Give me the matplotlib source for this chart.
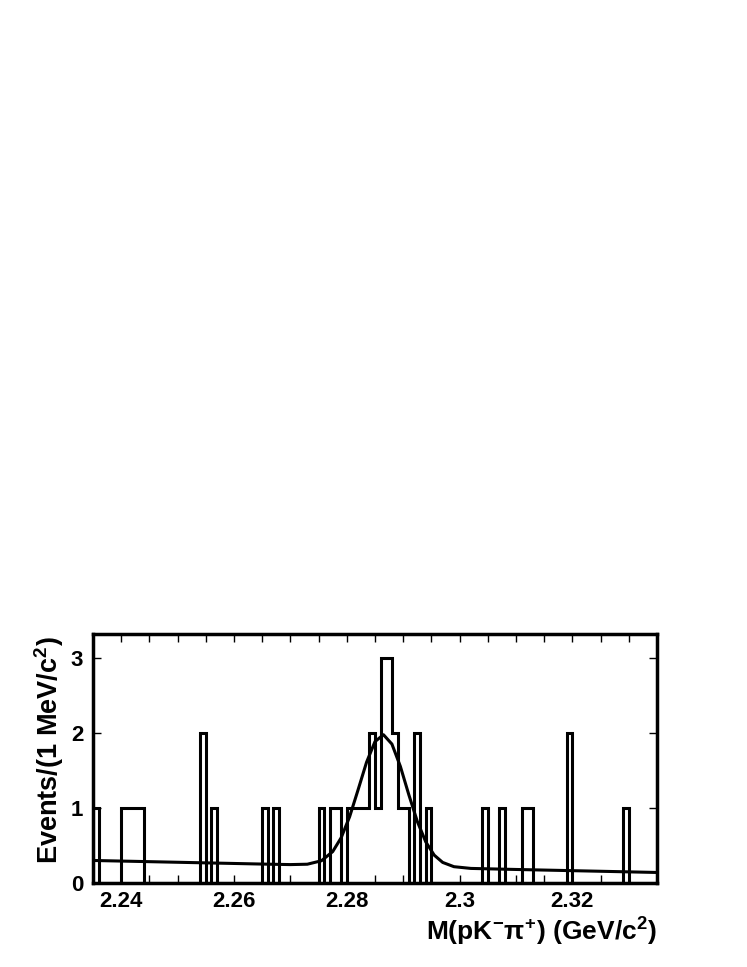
import numpy as np
import matplotlib
matplotlib.use('Agg')
import matplotlib.pyplot as plt
from matplotlib.ticker import MultipleLocator, FormatStrFormatter

plt.rcParams['font.family'] = ['Liberation Sans', 'DejaVu Sans']
plt.rcParams['font.weight'] = 'bold'
plt.rcParams['mathtext.fontset'] = 'custom'
plt.rcParams['mathtext.rm'] = 'Liberation Sans:bold'
plt.rcParams['mathtext.it'] = 'Liberation Sans:bold'
plt.rcParams['mathtext.bf'] = 'Liberation Sans:bold'

# histograma: 100 bins de 1 MeV entre 2.235 y 2.335 GeV
m_min = 2.235
m_max = 2.335
n_bins = 100
cuentas = [1, 0, 0, 0, 0, 1, 1, 1, 1, 0,
           0, 0, 0, 0, 0, 0, 0, 0, 0, 2,
           0, 1, 0, 0, 0, 0, 0, 0, 0, 0,
           1, 0, 1, 0, 0, 0, 0, 0, 0, 0,
           1, 0, 1, 1, 0, 1, 1, 1, 1, 2,
           1, 3, 3, 2, 1, 1, 0, 2, 0, 1,
           0, 0, 0, 0, 0, 0, 0, 0, 0, 1,
           0, 0, 1, 0, 0, 0, 1, 1, 0, 0,
           0, 0, 0, 0, 2, 0, 0, 0, 0, 0,
           0, 0, 0, 0, 1, 0, 0, 0, 0, 0]

# curva del ajuste
ajuste_x = [2.235, 2.245, 2.255, 2.265, 2.270, 2.273, 2.2755, 2.2775, 2.279,
            2.2805, 2.282, 2.2835, 2.285, 2.2865, 2.288, 2.2895, 2.291,
            2.2925, 2.294, 2.2955, 2.297, 2.299, 2.302, 2.310, 2.320, 2.335]
ajuste_y = [0.300, 0.284, 0.268, 0.252, 0.245, 0.250, 0.296, 0.418, 0.603,
            0.883, 1.242, 1.609, 1.885, 1.977, 1.852, 1.554, 1.176,
            0.821, 0.548, 0.371, 0.274, 0.217, 0.194, 0.180, 0.164, 0.140]

bordes = np.linspace(m_min, m_max, n_bins + 1)

fig = plt.figure(figsize=(7.47, 9.67), dpi=100)
ax = fig.add_axes([0.1245, 0.0869, 0.755, 0.2575])

ax.stairs(cuentas, bordes, color='black', lw=2.2)
ax.plot(ajuste_x, ajuste_y, color='black', lw=2.2)

ax.set_xlim(m_min, m_max)
ax.set_ylim(0, 3.32)

ax.xaxis.set_major_locator(MultipleLocator(0.02))
ax.xaxis.set_minor_locator(MultipleLocator(0.005))
ax.xaxis.set_major_formatter(FormatStrFormatter('%g'))
ax.yaxis.set_major_locator(MultipleLocator(1))

ax.tick_params(which='both', direction='in', top=True, right=True,
               width=1.0, labelsize=16)
ax.tick_params(axis='x', which='both', length=5.5, pad=6)
ax.tick_params(axis='y', which='major', length=5.5, pad=7)
for etiqueta in ax.get_xticklabels() + ax.get_yticklabels():
    etiqueta.set_fontweight('bold')

for lado in ax.spines.values():
    lado.set_linewidth(2.5)

fig.text(0.8795, 1 - 941 / 967, r'M(pK$^{-}\pi^{+}$) (GeV/c$^{2}$)',
         ha='right', va='baseline', fontsize=19, fontweight='bold')
fig.text(0.066, 1 - 636 / 967, r'Events/(1 MeV/c$^{2}$)',
         rotation=90, ha='center', va='top', fontsize=19.5, fontweight='bold')

plt.savefig('out.png', dpi=100)
